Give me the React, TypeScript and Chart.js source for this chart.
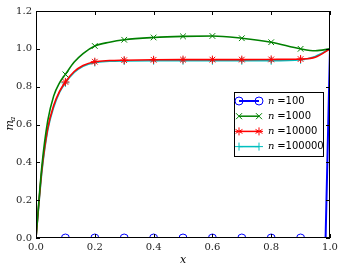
import React, { useEffect, useRef } from "react";
import { Chart, registerables } from "chart.js";
Chart.register(...registerables);

const xs100 = [0, 0.1, 0.2, 0.3, 0.4, 0.5, 0.6, 0.7, 0.8, 0.9, 0.985, 1.0];
const m100 = [0, 0, 0, 0, 0, 0, 0, 0, 0, 0, 0, 1.0];

const xsCurve = [0, 0.02, 0.04, 0.06, 0.08, 0.1, 0.13, 0.16, 0.2, 0.25, 0.3, 0.4, 0.5, 0.6, 0.7, 0.8, 0.9, 0.95, 1.0];
const m1000 = [0, 0.38, 0.62, 0.75, 0.82, 0.865, 0.93, 0.975, 1.015, 1.035, 1.048, 1.06, 1.066, 1.068, 1.056, 1.035, 1.0, 0.99, 1.0];
const m10000 = [0, 0.36, 0.58, 0.70, 0.775, 0.825, 0.88, 0.912, 0.932, 0.938, 0.94, 0.942, 0.943, 0.943, 0.943, 0.944, 0.946, 0.955, 1.0];
const m100000 = [0, 0.35, 0.57, 0.69, 0.77, 0.82, 0.875, 0.908, 0.928, 0.934, 0.936, 0.937, 0.937, 0.937, 0.937, 0.937, 0.942, 0.96, 1.0];

const markerXs = [0.1, 0.2, 0.3, 0.4, 0.5, 0.6, 0.7, 0.8, 0.9];
const xTicks = [0, 0.2, 0.4, 0.6, 0.8, 1.0];
const yTicks = [0, 0.2, 0.4, 0.6, 0.8, 1.0, 1.2];
const legendLabels = ["100", "1000", "10000", "100000"];

const colors = ["#0000ff", "#008000", "#ff0000", "#00bfbf"];
const styles = ["circle", "crossRot", "star", "cross"];

const isMarker = (x: number) => markerXs.some((m) => Math.abs(m - x) < 1e-6);
const pts = (xs: number[], ys: number[]) => xs.map((x, i) => ({ x, y: ys[i] }));

function marker(ctx: CanvasRenderingContext2D, style: string, x: number, y: number, r: number) {
  ctx.beginPath();
  if (style === "circle") {
    ctx.arc(x, y, r, 0, Math.PI * 2);
  } else if (style === "crossRot") {
    const d = r * 0.75;
    ctx.moveTo(x - d, y - d); ctx.lineTo(x + d, y + d);
    ctx.moveTo(x + d, y - d); ctx.lineTo(x - d, y + d);
  } else if (style === "cross") {
    ctx.moveTo(x - r, y); ctx.lineTo(x + r, y);
    ctx.moveTo(x, y - r); ctx.lineTo(x, y + r);
  } else {
    for (let k = 0; k < 3; k++) {
      const ang = (k * Math.PI) / 3 + Math.PI / 2;
      ctx.moveTo(x + Math.cos(ang) * r, y + Math.sin(ang) * r);
      ctx.lineTo(x - Math.cos(ang) * r, y - Math.sin(ang) * r);
    }
    ctx.moveTo(x - r, y); ctx.lineTo(x + r, y);
  }
  ctx.stroke();
}

const decor = {
  id: "decor",
  afterDraw(chart: any) {
    const { ctx, chartArea: a, scales } = chart;
    ctx.save();
    ctx.strokeStyle = "#000";
    ctx.lineWidth = 1;
    ctx.strokeRect(a.left + 0.5, a.top + 0.5, a.right - a.left - 1, a.bottom - a.top - 1);
    ctx.beginPath();
    xTicks.forEach((t) => {
      const px = Math.round(scales.x.getPixelForValue(t)) + 0.5;
      ctx.moveTo(px, a.bottom); ctx.lineTo(px, a.bottom - 4);
      ctx.moveTo(px, a.top); ctx.lineTo(px, a.top + 4);
    });
    yTicks.forEach((t) => {
      const py = Math.round(scales.y.getPixelForValue(t)) + 0.5;
      ctx.moveTo(a.left, py); ctx.lineTo(a.left + 4, py);
      ctx.moveTo(a.right, py); ctx.lineTo(a.right - 4, py);
    });
    ctx.stroke();

    // axis titles
    ctx.fillStyle = "#000";
    ctx.font = "italic 11px 'DejaVu Serif'";
    ctx.textAlign = "center";
    ctx.textBaseline = "middle";
    ctx.fillText("x", (a.left + a.right) / 2, 260);
    ctx.save();
    ctx.translate(10, (a.top + a.bottom) / 2);
    ctx.rotate(-Math.PI / 2);
    ctx.textAlign = "left";
    ctx.fillText("m", -6, 0);
    ctx.font = "italic 8px 'DejaVu Serif'";
    ctx.fillText("a", 3, 3);
    ctx.restore();

    // legend
    const lx = 234, ly = 92, lw = 89, lh = 64;
    ctx.fillStyle = "#fff";
    ctx.fillRect(lx, ly, lw, lh);
    ctx.strokeStyle = "#000";
    ctx.lineWidth = 1;
    ctx.strokeRect(lx + 0.5, ly + 0.5, lw, lh);
    legendLabels.forEach((lab, i) => {
      const y = ly + 9 + i * 15.2;
      const x0 = lx + 5, x1 = lx + 25;
      ctx.strokeStyle = colors[i];
      ctx.lineWidth = i === 0 ? 2 : 1.5;
      ctx.beginPath(); ctx.moveTo(x0, y); ctx.lineTo(x1, y); ctx.stroke();
      ctx.lineWidth = 1;
      [x0, x1].forEach((px) => marker(ctx, styles[i], px, y, 4));
      ctx.fillStyle = "#000";
      ctx.textAlign = "left";
      ctx.font = "italic 10px 'DejaVu Serif'";
      ctx.fillText("n", lx + 34, y);
      ctx.font = "10px 'DejaVu Sans'";
      ctx.fillText(" =" + lab, lx + 40, y);
    });
    ctx.restore();
  },
};

export default function App() {
  const ref = useRef<HTMLCanvasElement>(null);
  useEffect(() => {
    const series = [pts(xs100, m100), pts(xsCurve, m1000), pts(xsCurve, m10000), pts(xsCurve, m100000)];
    const chart = new Chart(ref.current!, {
      type: "line",
      data: {
        datasets: series.map((d, i) => ({
          data: d,
          borderColor: colors[i],
          backgroundColor: "rgba(0,0,0,0)",
          pointBorderColor: colors[i],
          pointBackgroundColor: "rgba(0,0,0,0)",
          pointStyle: styles[i] as any,
          borderWidth: i === 0 ? 2 : 1.6,
          pointBorderWidth: 1,
          pointRadius: (c: any) => (c.raw && isMarker(c.raw.x) ? 4 : 0),
          cubicInterpolationMode: i === 0 ? "default" : "monotone",
          tension: 0,
          fill: false,
        })),
      },
      options: {
        animation: false,
        responsive: false,
        events: [],
        layout: { padding: { left: 0, top: 11, right: 11, bottom: 0 } },
        plugins: { legend: { display: false }, tooltip: { enabled: false } },
        scales: {
          x: {
            type: "linear", min: 0, max: 1,
            grid: { display: false, drawTicks: false },
            border: { display: false },
            ticks: { stepSize: 0.2, padding: 3, color: "#222", font: { family: "DejaVu Serif", size: 10 }, callback: (v: any) => Number(v).toFixed(1), maxRotation: 0 },
            afterFit: (s: any) => { s.height = 32; },
          },
          y: {
            type: "linear", min: 0, max: 1.2,
            grid: { display: false, drawTicks: false },
            border: { display: false },
            ticks: { stepSize: 0.2, padding: 4, color: "#222", font: { family: "DejaVu Serif", size: 10 }, callback: (v: any) => Number(v).toFixed(1) },
            afterFit: (s: any) => { s.width = 36; },
          },
        },
      } as any,
      plugins: [decor],
    });
    return () => chart.destroy();
  }, []);
  return (
    <div style={{ position: "fixed", left: 0, top: 0, width: 341, height: 270, background: "#fff" }}>
      <canvas ref={ref} width={341} height={270} style={{ display: "block" }} />
    </div>
  );
}
